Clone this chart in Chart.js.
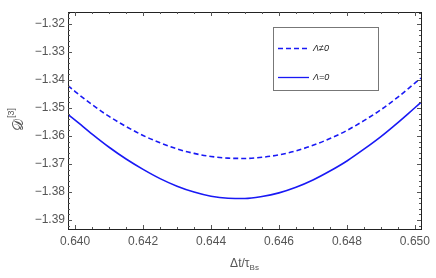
<!DOCTYPE html>
<html>
<head>
<meta charset="utf-8">
<script src="https://cdn.jsdelivr.net/npm/chart.js@4.4.1/dist/chart.umd.min.js"></script>
<style>
  body { margin: 0; background: #fff; }
  canvas { display: block; }
</style>
</head>
<body>
<canvas id="myChart" width="436" height="278"></canvas>
<script>
// values
var xValues = [0.63979, 0.6400, 0.6405, 0.6410, 0.6415, 0.6420, 0.6425, 0.6430, 0.6435, 0.6440, 0.6445,
    0.6450, 0.6455, 0.6460, 0.6465, 0.6470, 0.6475, 0.6480, 0.6485, 0.6490, 0.6495, 0.6500, 0.65018];
var lambdaNonZero = [-1.3420, -1.3441, -1.3488, -1.3530, -1.3566, -1.3598, -1.3624, -1.3646, -1.3662, -1.3673, -1.3679,
    -1.3680, -1.3676, -1.3667, -1.3653, -1.3633, -1.3609, -1.3580, -1.3545, -1.3506, -1.3461, -1.3411, -1.3393];
var lambdaZero = [-1.3523, -1.3543, -1.3593, -1.3640, -1.3682, -1.3719, -1.3752, -1.3779, -1.3800, -1.3815, -1.3822,
    -1.3823, -1.3816, -1.3803, -1.3783, -1.3757, -1.3725, -1.3689, -1.3647, -1.3602, -1.3552, -1.3499, -1.3480];
var seriesLabels = ['Λ≠0', 'Λ=0'];

var xTicks = [0.640, 0.642, 0.644, 0.646, 0.648, 0.650];
var yTicks = [-1.39, -1.38, -1.37, -1.36, -1.35, -1.34, -1.33, -1.32];
var xMinorStep = 0.0005;
var yMinorStep = 0.002;
var xRange = [0.63979, 0.65018];
var yRange = [-1.3932, -1.3157];

var blue = 'rgb(25,25,245)';
var labelFont = { family: '"Liberation Sans", Arial, sans-serif', size: 12 };

function pts(ys) {
    return xValues.map(function (x, i) { return { x: x, y: ys[i] }; });
}

// frame, inward ticks, legend and axis titles
var framePlugin = {
    id: 'frame',
    afterDraw: function (chart) {
        var c = chart.ctx, a = chart.chartArea;
        var xs = chart.scales.x, ys = chart.scales.y;
        c.save();
        c.strokeStyle = '#222';
        c.lineWidth = 1;
        c.strokeRect(Math.round(a.left) + 0.5, Math.round(a.top) + 0.5,
            Math.round(a.right - a.left), Math.round(a.bottom - a.top));

        c.strokeStyle = '#555';
        c.beginPath();
        var v, p, len;
        for (v = 0.6395; v <= xRange[1]; v += xMinorStep) {
            if (v < xRange[0]) continue;
            p = Math.round(xs.getPixelForValue(v)) + 0.5;
            len = Math.abs(Math.round(v / 0.002) * 0.002 - v) < 1e-7 ? 4 : 2;
            c.moveTo(p, a.bottom); c.lineTo(p, a.bottom - len);
            c.moveTo(p, a.top); c.lineTo(p, a.top + len);
        }
        for (v = -1.394; v <= yRange[1]; v += yMinorStep) {
            if (v < yRange[0]) continue;
            p = Math.round(ys.getPixelForValue(v)) + 0.5;
            len = Math.abs(Math.round(v / 0.01) * 0.01 - v) < 1e-7 ? 4 : 2;
            c.moveTo(a.left, p); c.lineTo(a.left + len, p);
            c.moveTo(a.right, p); c.lineTo(a.right - len, p);
        }
        c.stroke();

        // legend box
        c.fillStyle = '#fff';
        c.fillRect(273, 27, 105, 63);
        c.strokeStyle = '#777';
        c.strokeRect(273.5, 27.5, 105, 63);
        var rows = [48, 77];
        chart.data.datasets.forEach(function (ds, i) {
            c.beginPath();
            c.strokeStyle = ds.borderColor;
            c.lineWidth = 1.3;
            c.setLineDash(ds.borderDash || []);
            c.moveTo(278, rows[i] + 0.5); c.lineTo(309, rows[i] + 0.5);
            c.stroke();
            c.setLineDash([]);
            c.fillStyle = '#222';
            c.font = 'italic 9px "Liberation Sans", Arial, sans-serif';
            c.textBaseline = 'middle';
            c.fillText(ds.label, 313, rows[i]);
        });

        // x title
        c.fillStyle = '#555';
        c.textBaseline = 'alphabetic';
        c.font = '12px "Liberation Sans", Arial, sans-serif';
        var main = 'Δt/τ';
        c.font = '8px "Liberation Sans", Arial, sans-serif';
        var subW = c.measureText('Bs').width;
        c.font = '12px "Liberation Sans", Arial, sans-serif';
        var mainW = c.measureText(main).width;
        var cx = (a.left + a.right) / 2;
        var x0 = cx - (mainW + subW) / 2;
        c.fillText(main, x0, 267);
        c.font = '8px "Liberation Sans", Arial, sans-serif';
        c.fillText('Bs', x0 + mainW, 270);

        // y title
        c.translate(17, 120);
        c.rotate(-Math.PI / 2);
        c.font = '15px "DejaVu Serif", serif';
        var d = '𝒟';
        var dW = c.measureText(d).width;
        c.font = '9px "Liberation Sans", Arial, sans-serif';
        var sW = c.measureText('[3]').width;
        var sx = -(dW + sW) / 2;
        c.font = '15px "DejaVu Serif", serif';
        c.textBaseline = 'middle';
        c.fillText(d, sx, 2);
        c.font = '9px "Liberation Sans", Arial, sans-serif';
        c.fillText('[3]', sx + dW + 1, -5);
        c.restore();
    }
};

var config = {
    type: 'line',
    data: {
        datasets: [{
            label: seriesLabels[0],
            data: pts(lambdaNonZero),
            borderColor: blue,
            borderWidth: 1.6,
            borderDash: [5, 3],
            pointRadius: 0,
            cubicInterpolationMode: 'monotone',
            fill: false
        }, {
            label: seriesLabels[1],
            data: pts(lambdaZero),
            borderColor: blue,
            borderWidth: 1.6,
            pointRadius: 0,
            cubicInterpolationMode: 'monotone',
            fill: false
        }]
    },
    options: {
        responsive: false,
        animation: false,
        devicePixelRatio: 1,
        layout: { padding: { top: 12, right: 15, left: 0, bottom: 0 } },
        plugins: { legend: { display: false }, tooltip: { enabled: false } },
        scales: {
            x: {
                type: 'linear',
                min: xRange[0],
                max: xRange[1],
                grid: { display: false, drawTicks: false },
                border: { display: false },
                afterBuildTicks: function (s) { s.ticks = xTicks.map(function (v) { return { value: v }; }); },
                afterFit: function (s) { s.height = 49; },
                ticks: {
                    autoSkip: false,
                    maxRotation: 0,
                    padding: 5,
                    color: '#555',
                    font: labelFont,
                    callback: function (v) { return v.toFixed(3); }
                }
            },
            y: {
                type: 'linear',
                min: yRange[0],
                max: yRange[1],
                grid: { display: false, drawTicks: false },
                border: { display: false },
                afterBuildTicks: function (s) { s.ticks = yTicks.map(function (v) { return { value: v }; }); },
                afterFit: function (s) { s.width = 68; },
                ticks: {
                    autoSkip: false,
                    padding: 3,
                    color: '#555',
                    font: labelFont,
                    callback: function (v) { return v.toFixed(2).replace('-', '−'); }
                }
            }
        }
    },
    plugins: [framePlugin]
};

const ctx = document.getElementById('myChart').getContext('2d');
const myChart = new Chart(ctx, config);
</script>
</body>
</html>
